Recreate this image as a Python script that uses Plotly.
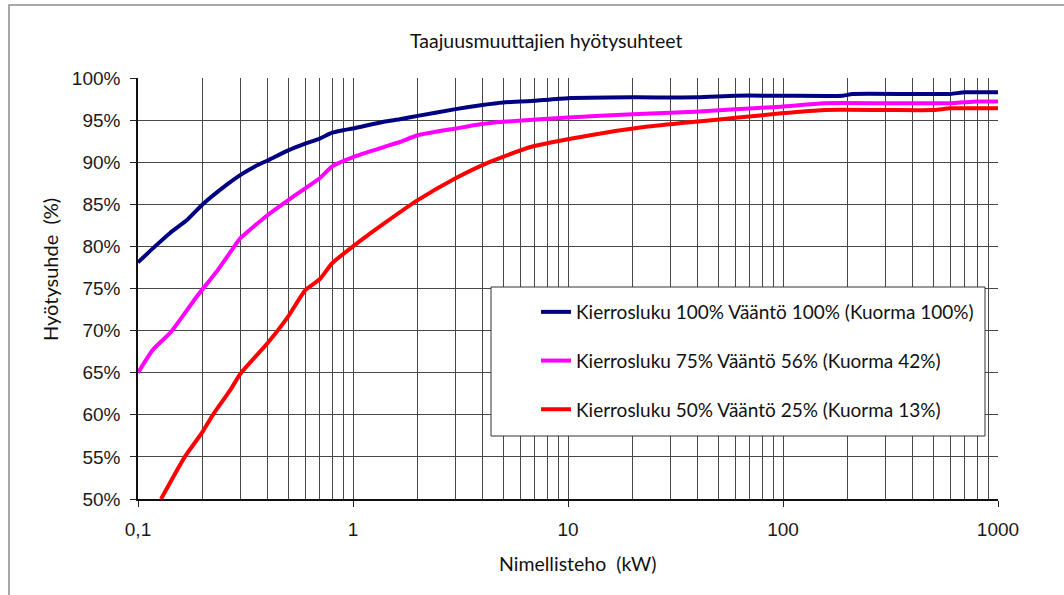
import plotly.graph_objects as go

# Nominal power (kW) and efficiency (%) for three operating points
kw_full = [0.1, 0.12, 0.141, 0.17, 0.2, 0.258, 0.3, 0.35, 0.4, 0.5, 0.6, 0.7, 0.8, 0.9, 1.0,
           1.39, 1.65, 2.0, 3.0, 4.0, 5.0, 6.0, 7.0, 10, 20, 40, 60, 100, 190, 210, 400, 600, 700, 1000]
eff_full = [78.1, 80.0, 81.6, 83.2, 85.0, 87.3, 88.5, 89.5, 90.2, 91.4, 92.2, 92.8, 93.5, 93.8, 94.0,
            94.8, 95.1, 95.5, 96.3, 96.8, 97.1, 97.2, 97.3, 97.6, 97.7, 97.7, 97.9, 97.9, 97.9, 98.1,
            98.1, 98.1, 98.3, 98.3]

kw_mid = [0.1, 0.117, 0.143, 0.187, 0.232, 0.277, 0.3, 0.4, 0.5, 0.6, 0.7, 0.8, 1.0, 1.39, 1.65,
          2.0, 3.0, 3.9, 5, 10, 20, 39, 60, 98, 155, 300, 600, 800, 1000]
eff_mid = [65.0, 67.7, 69.9, 74.0, 77.0, 79.8, 81.0, 83.7, 85.5, 86.9, 88.1, 89.5, 90.6, 91.8, 92.4,
           93.2, 94.0, 94.5, 94.8, 95.3, 95.7, 96.0, 96.3, 96.6, 97.0, 97.0, 97.0, 97.2, 97.2]

kw_low = [0.128, 0.165, 0.2, 0.223, 0.268, 0.3, 0.4, 0.5, 0.6, 0.7, 0.8, 1.0, 1.39, 2.0, 3.0, 4.2,
          6.7, 12.7, 23, 39, 62, 98, 155, 300, 505, 600, 1000]
eff_low = [50.0, 55.0, 58.0, 60.0, 62.9, 64.9, 68.5, 71.7, 74.8, 76.1, 78.0, 80.0, 82.7, 85.5, 88.1,
           89.9, 91.8, 93.2, 94.2, 94.8, 95.3, 95.8, 96.2, 96.2, 96.2, 96.4, 96.4]

series_names = [
    "Kierrosluku 100% Vääntö 100% (Kuorma 100%)",
    "Kierrosluku 75% Vääntö 56% (Kuorma 42%)",
    "Kierrosluku 50% Vääntö 25% (Kuorma 13%)",
]
series_colors = ["#000080", "#FF00FF", "#FF0000"]

x_tick_vals = [0.1, 1, 10, 100, 1000]
x_tick_text = ["0,1", "1", "10", "100", "1000"]
x_minor_vals = [m * 10 ** e for e in range(-1, 3) for m in range(2, 10)]
y_tick_vals = [50, 55, 60, 65, 70, 75, 80, 85, 90, 95, 100]
y_tick_text = [f"{v}%" for v in y_tick_vals]

chart_title = "Taajuusmuuttajien hyötysuhteet"
x_title = "Nimellisteho  (kW)"
y_title = "Hyötysuhde  (%)"

# plot area in pixels: left 138, right 998, top 78, bottom 499
PL, PR, PT, PB = 138, 998, 78, 499


def px_x(p):
    return (p - PL) / (PR - PL)


def px_y(p):
    return 1 - (p - PT) / (PB - PT)


fig = go.Figure()
for i, (xs, ys) in enumerate([(kw_full, eff_full), (kw_mid, eff_mid), (kw_low, eff_low)]):
    fig.add_trace(go.Scatter(
        x=xs, y=ys, mode="lines", name=series_names[i], legendgroup=f"g{i}",
        line=dict(color=series_colors[i], width=4, shape="spline", smoothing=0.5),
    ))

grid_color = "#474747"
tick_font = dict(family="Liberation Sans, Arial", size=19, color="#1a1a1a")
fig.update_xaxes(
    type="log", range=[-1, 3],
    tickvals=x_tick_vals, ticktext=x_tick_text,
    ticks="outside", ticklen=6, tickcolor="#222", tickwidth=1,
    showgrid=True, gridcolor=grid_color, gridwidth=1,
    minor=dict(tickvals=x_minor_vals, showgrid=True, gridcolor=grid_color, gridwidth=1, ticks=""),
    showline=True, linecolor="#111", linewidth=1.5,
    tickfont=tick_font, ticklabelstandoff=6,
    zeroline=False,
)
fig.update_yaxes(
    range=[50, 100],
    tickvals=y_tick_vals, ticktext=y_tick_text,
    ticks="outside", ticklen=6, tickcolor="#222", tickwidth=1,
    showgrid=True, gridcolor=grid_color, gridwidth=1,
    showline=True, linecolor="#111", linewidth=1.5,
    tickfont=tick_font, ticklabelstandoff=6,
    zeroline=False,
)

text_font = "Lato, Noto Sans, sans-serif"
fig.update_layout(
    width=1064, height=595,
    margin=dict(l=PL, r=1064 - PR, t=PT, b=595 - PB),
    paper_bgcolor="white", plot_bgcolor="white",
    showlegend=True,
    legend=dict(
        x=px_x(536), y=px_y(293), xanchor="left", yanchor="top",
        bgcolor="rgba(0,0,0,0)", borderwidth=0,
        font=dict(family=text_font, size=19, color="#111"),
        tracegroupgap=21,
    ),
    annotations=[
        dict(text=chart_title, xref="paper", yref="paper", x=px_x(546), y=px_y(41),
             xanchor="center", yanchor="middle", showarrow=False,
             font=dict(family=text_font, size=19.5, color="#111")),
        dict(text=x_title, xref="paper", yref="paper", x=px_x(577), y=px_y(563),
             xanchor="center", yanchor="middle", showarrow=False,
             font=dict(family=text_font, size=19.5, color="#111")),
        dict(text=y_title, xref="paper", yref="paper", x=px_x(50), y=px_y(270),
             xanchor="center", yanchor="middle", showarrow=False, textangle=-90,
             font=dict(family=text_font, size=20, color="#111")),
    ],
    shapes=[
        # outer chart frame
        dict(type="rect", xref="paper", yref="paper",
             x0=px_x(9), x1=px_x(1090), y0=px_y(620), y1=px_y(5),
             line=dict(color="#8c8c8c", width=1.5), fillcolor="rgba(0,0,0,0)", layer="below"),
        # legend box
        dict(type="rect", xref="paper", yref="paper",
             x0=px_x(491), x1=px_x(985), y0=px_y(436), y1=px_y(287),
             line=dict(color="#333", width=1), fillcolor="white", layer="above"),
    ],
)

fig.write_html("out.html")
